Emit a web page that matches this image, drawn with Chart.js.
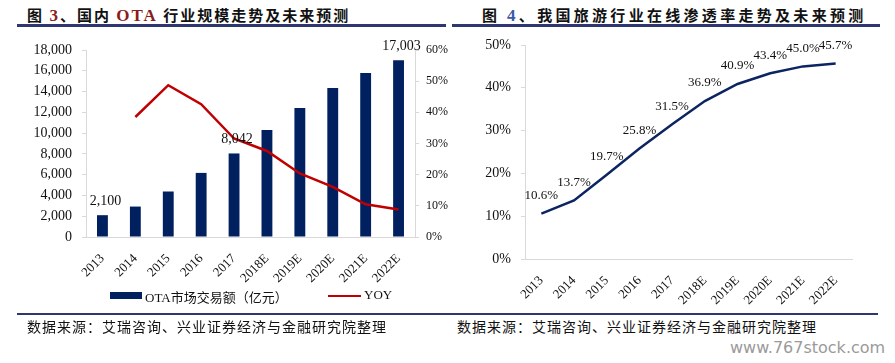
<!DOCTYPE html>
<html>
<head>
<meta charset="utf-8">
<script src="https://cdn.jsdelivr.net/npm/chart.js@4/dist/chart.umd.min.js"></script>
<style>
  html, body { margin: 0; padding: 0; background: #fff; }
  body { width: 895px; height: 363px; position: relative; overflow: hidden; }
  .abs { position: absolute; }
  .title { font-family: "Noto Sans CJK SC", sans-serif; font-weight: bold; font-size: 15px; letter-spacing: 2px; color: #111; white-space: nowrap; top: 4px; }
  .title .num { font-family: "Liberation Serif", serif; font-size: 17px; }
  .rule { background: #2f3771; }
  .source { font-family: "Noto Sans CJK SC", sans-serif; font-size: 14px; letter-spacing: 1px; color: #111; top: 316px; white-space: nowrap; }
  .legend { font-family: "Liberation Serif", "Noto Sans CJK SC", serif; font-size: 13px; color: #111; white-space: nowrap; }
  .wm { font-family: "DejaVu Sans", sans-serif; font-size: 16px; color: #9a9a9a; left: 730px; top: 338px; }
</style>
</head>
<body>

<div class="abs title" style="left:27px;">图 <span class="num" style="color:#8b1c1c;">3</span>、国内 <span class="num" style="color:#8b1c1c;">OTA</span> 行业规模走势及未来预测</div>
<div class="abs title" style="left:482px; letter-spacing:3.3px;">图 <span class="num" style="color:#3a5aa8;">4</span>、我国旅游行业在线渗透率走势及未来预测</div>
<div class="abs rule" style="left:17px; top:24px; width:429px; height:3px;"></div>
<div class="abs rule" style="left:452px; top:24px; width:428px; height:3px;"></div>

<canvas id="otaChart" class="abs" width="450" height="290" style="left:0; top:0;"></canvas>
<canvas id="rateChart" class="abs" width="445" height="310" style="left:450px; top:0;"></canvas>

<div class="abs" style="left:110px; top:292px; width:32px; height:7px; background:#002060;"></div>
<div class="abs legend" style="left:145px; top:287px;">OTA市场交易额（亿元）</div>
<div class="abs" style="left:328px; top:295px; width:33px; height:2px; background:#c00000;"></div>
<div class="abs legend" style="left:364px; top:287px;">YOY</div>

<div class="abs rule" style="left:17px; top:313px; width:433px; height:2px;"></div>
<div class="abs rule" style="left:450px; top:313px; width:428px; height:2px;"></div>
<div class="abs source" style="left:27px;">数据来源：艾瑞咨询、兴业证券经济与金融研究院整理</div>
<div class="abs source" style="left:457px;">数据来源：艾瑞咨询、兴业证券经济与金融研究院整理</div>
<div class="abs wm">www.767stock.com</div>

<script>
const years = ['2013', '2014', '2015', '2016', '2017', '2018E', '2019E', '2020E', '2021E', '2022E'];
// OTA market transaction volume (亿元)
const otaVolume = [2100, 2930, 4380, 6170, 8042, 10290, 12410, 14340, 15780, 17003];
// year-over-year growth (%)
const otaYoy = [null, 38.5, 48.7, 42.6, 31.6, 27.6, 20.4, 16.1, 10.5, 8.8];
// online penetration rate (%)
const onlineRate = [10.6, 13.7, 19.7, 25.8, 31.5, 36.9, 40.9, 43.4, 45.0, 45.7];
const labelledBars = [0, 4, 9];

const SERIF = '"Liberation Serif", "Times New Roman", serif';
const AXIS_GREY = '#d9d9d9';

// draws value text above selected points of one dataset
function valueLabels(datasetIndex, indexes, fmt, dx, dy, size) {
    return {
        id: 'valueLabels' + datasetIndex,
        afterDatasetsDraw(chart) {
            const meta = chart.getDatasetMeta(datasetIndex);
            const data = chart.data.datasets[datasetIndex].data;
            const ctx = chart.ctx;
            ctx.save();
            ctx.font = size + 'px ' + SERIF;
            ctx.fillStyle = '#111';
            ctx.textAlign = 'center';
            ctx.textBaseline = 'middle';
            indexes.forEach(i => {
                const el = meta.data[i];
                ctx.fillText(fmt(data[i]), el.x + dx, el.y - dy);
            });
            ctx.restore();
        }
    };
}

const tickFont = { family: SERIF, size: 14 };

new Chart(document.getElementById('otaChart'), {
    type: 'bar',
    data: {
        labels: years,
        datasets: [{
            type: 'bar',
            label: 'OTA市场交易额（亿元）',
            data: otaVolume,
            backgroundColor: '#002060',
            categoryPercentage: 1,
            barPercentage: 0.33,
            yAxisID: 'y',
            order: 2
        }, {
            type: 'line',
            label: 'YOY',
            data: otaYoy,
            borderColor: '#c00000',
            borderWidth: 2.5,
            pointRadius: 0,
            tension: 0,
            yAxisID: 'y1',
            order: 1
        }]
    },
    options: {
        responsive: false,
        animation: false,
        layout: { padding: { top: 50, left: 0, right: 0, bottom: 0 } },
        plugins: { legend: { display: false }, tooltip: { enabled: false } },
        scales: {
            x: {
                grid: { display: false },
                border: { color: AXIS_GREY },
                ticks: { color: '#111', font: { family: SERIF, size: 13 }, minRotation: 45, maxRotation: 45, padding: 6 },
                afterFit: s => { s.height = 53; }
            },
            y: {
                position: 'left',
                min: 0, max: 18000,
                ticks: { stepSize: 2000, color: '#111', font: tickFont, padding: 10,
                    callback: v => v.toLocaleString('en-US') },
                grid: { drawOnChartArea: false, tickLength: 4, color: AXIS_GREY },
                border: { color: AXIS_GREY },
                afterFit: s => { s.width = 86; }
            },
            y1: {
                position: 'right',
                min: 0, max: 60,
                ticks: { stepSize: 10, color: '#111', font: { family: SERIF, size: 12 }, padding: 7,
                    callback: v => v + '%' },
                grid: { drawOnChartArea: false, tickLength: 4, color: AXIS_GREY },
                border: { color: AXIS_GREY },
                afterFit: s => { s.width = 35; }
            }
        }
    },
    plugins: [valueLabels(0, labelledBars, v => v.toLocaleString('en-US'), 3, 14, 14)]
});

new Chart(document.getElementById('rateChart'), {
    type: 'line',
    data: {
        labels: years,
        datasets: [{
            label: '在线渗透率',
            data: onlineRate,
            borderColor: '#0c2461',
            borderWidth: 2.5,
            pointRadius: 0,
            tension: 0
        }]
    },
    options: {
        responsive: false,
        animation: false,
        layout: { padding: { top: 45, left: 0, right: 43, bottom: 0 } },
        plugins: { legend: { display: false }, tooltip: { enabled: false } },
        scales: {
            x: {
                offset: true,
                grid: { display: false },
                border: { color: AXIS_GREY },
                ticks: { color: '#111', font: { family: SERIF, size: 13 }, minRotation: 45, maxRotation: 45, padding: 6 },
                afterFit: s => { s.height = 51; }
            },
            y: {
                min: 0, max: 50,
                ticks: { stepSize: 10, color: '#111', font: tickFont, padding: 10,
                    callback: v => v + '%' },
                grid: { drawOnChartArea: false, tickLength: 4, color: AXIS_GREY },
                border: { color: AXIS_GREY },
                afterFit: s => { s.width = 75; }
            }
        }
    },
    plugins: [valueLabels(0, onlineRate.map((v, i) => i), v => v.toFixed(1) + '%', 0, 18, 13)]
});
</script>
</body>
</html>
